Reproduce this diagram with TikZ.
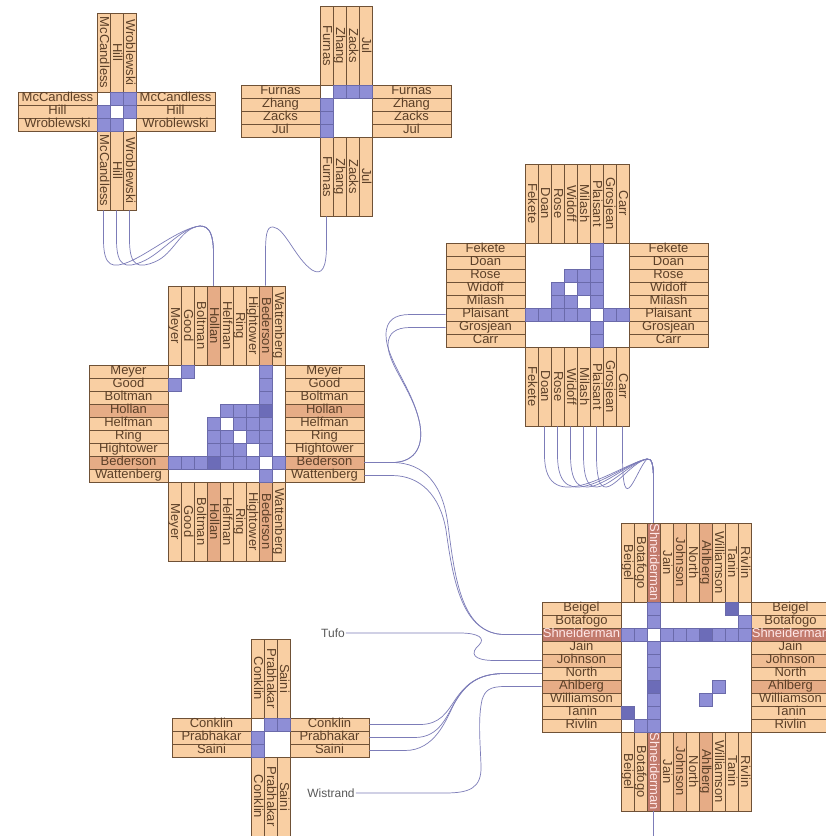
\documentclass[tikz,border=0pt]{standalone}
\usepackage{fontspec}
\setmainfont{Liberation Sans}
\definecolor{lo}{HTML}{F9CFA3}
\definecolor{ldk}{HTML}{E6AC86}
\definecolor{lmd}{HTML}{F0BD93}
\definecolor{lsh}{HTML}{C27A6C}
\definecolor{lbord}{HTML}{6F5136}
\definecolor{ltxt}{HTML}{5C4028}
\definecolor{lpink}{HTML}{FFE8E8}
\definecolor{pur}{HTML}{8E8ED6}
\definecolor{purdk}{HTML}{6C6CB8}
\definecolor{purbord}{HTML}{6A6AAA}
\definecolor{edgec}{HTML}{7C7CB8}
\tikzset{
  lab/.style={draw=lbord, line width=0.6pt, inner sep=0pt, minimum width=79pt,
    minimum height=13pt, font=\fontsize{13}{13}\selectfont, text height=9.3pt,
    text depth=2.6pt, anchor=center},
  cellp/.style={fill=pur, draw=purbord, line width=0.4pt},
  celld/.style={fill=purdk, draw=purbord, line width=0.4pt},
  edge/.style={draw=edgec, line width=0.7pt},
  freelab/.style={text=black!65, font=\fontsize{12}{12}\selectfont, inner sep=1pt}
}
\newcommand{\nxmat}[5]{%
  \fill[white] (#2,#3) rectangle ++(13*#4,13*#4);
  \draw[lbord, line width=0.6pt] (#2,#3) rectangle ++(13*#4,13*#4);
  \foreach \nm/\fc/\tc [count=\i] in {#5} {
    \node[lab, fill=\fc, text=\tc] (#1L\i) at ({#2-39.5},{#3+13*\i-6.5}) {\nm};
    \node[lab, fill=\fc, text=\tc] (#1R\i) at ({#2+13*#4+39.5},{#3+13*\i-6.5}) {\nm};
    \node[lab, fill=\fc, text=\tc, rotate=-90] (#1T\i) at ({#2+13*\i-6.5},{#3-39.5}) {\nm};
    \node[lab, fill=\fc, text=\tc, rotate=-90] (#1B\i) at ({#2+13*\i-6.5},{#3+13*#4+39.5}) {\nm};
  }
}
\newcommand{\nxcells}[4]{%
  \foreach \ra/\cb in {#4} {
    \filldraw[#3] ({#1+13*\cb-13},{#2+13*\ra-13}) rectangle ++(13,13);
    \filldraw[#3] ({#1+13*\ra-13},{#2+13*\cb-13}) rectangle ++(13,13);
  }
}
\begin{document}
\begin{tikzpicture}[x=1pt,y=-1pt]
\useasboundingbox (0,0) rectangle (826,836);
\clip (0,0) rectangle (826,836);
\fill[white] (0,0) rectangle (826,836);

% M1
\nxmat{MA}{97}{92}{3}{McCandless/lo/ltxt, Hill/lo/ltxt, Wroblewski/lo/ltxt}
\nxcells{97}{92}{cellp}{1/2, 1/3, 2/3}
% M2
\nxmat{MB}{320}{85}{4}{Furnas/lo/ltxt, Zhang/lo/ltxt, Zacks/lo/ltxt, Jul/lo/ltxt}
\nxcells{320}{85}{cellp}{1/2, 1/3, 1/4}
% M3
\nxmat{MC}{168}{365}{9}{Meyer/lo/ltxt, Good/lo/ltxt, Boltman/lo/ltxt, Hollan/ldk/ltxt, Helfman/lo/ltxt, Ring/lo/ltxt, Hightower/lo/ltxt, Bederson/ldk/ltxt, Wattenberg/lo/ltxt}
\nxcells{168}{365}{cellp}{1/2, 1/8, 2/8, 3/8, 4/5, 4/6, 4/7, 5/6, 5/7, 5/8, 6/7, 6/8, 7/8, 8/9}
\nxcells{168}{365}{celld}{4/8}
% M4
\nxmat{MD}{525}{243}{8}{Fekete/lo/ltxt, Doan/lo/ltxt, Rose/lo/ltxt, Widoff/lo/ltxt, Milash/lo/ltxt, Plaisant/lo/ltxt, Grosjean/lo/ltxt, Carr/lo/ltxt}
\nxcells{525}{243}{cellp}{1/6, 2/6, 3/4, 3/5, 3/6, 4/5, 4/6, 5/6, 6/7, 6/8}
% M5
\nxmat{ME}{621}{602}{10}{Beigel/lo/ltxt, Botafogo/lo/ltxt, Shneiderman/lsh/lpink, Jain/lo/ltxt, Johnson/lmd/ltxt, North/lo/ltxt, Ahlberg/ldk/ltxt, Williamson/lo/ltxt, Tanin/lo/ltxt, Rivlin/lo/ltxt}
\nxcells{621}{602}{cellp}{1/3, 2/3, 2/10, 3/4, 3/5, 3/6, 3/8, 3/9, 3/10, 7/8}
\nxcells{621}{602}{celld}{1/9, 3/7}
% M6
\nxmat{MF}{251}{718}{3}{Conklin/lo/ltxt, Prabhakar/lo/ltxt, Saini/lo/ltxt}
\nxcells{251}{718}{cellp}{1/2, 1/3}

% free labels
\node[freelab] (tufo) at (333,633) {Tufo};
\node[freelab] (wist) at (331,793) {Wistrand};
\coordinate (offS) at (653.5,836);

% edges M1 -> Hollan
\foreach \k/\x in {1/103.5, 2/116.5, 3/129.5} {
  \draw[edge] (MAB\k.east) -- (\x,240) .. controls (\x,268) and (\x+10,268) .. (\x+25,262)
    .. controls (\x+45,254) and (180,228) .. (200,226)
    .. controls (210,226) and (213.5,235) .. (213.5,255) -- (MCT4.west);
}
% Furnas -> Bederson
\draw[edge] (MBB1.east) -- (326.5,245) .. controls (326.5,268) and (322,276) .. (312,270)
  .. controls (295,258) and (285,228) .. (273,227)
  .. controls (266,226) and (265.5,238) .. (265.5,255) -- (MCT8.west);
% Bederson -> Plaisant, Grosjean
\draw[edge] (MCR8.east) -- (392,462.5) .. controls (412,462.5) and (424,450) .. (420,425)
  .. controls (414,390) and (386,360) .. (386,335)
  .. controls (386,320) and (395,314.5) .. (410,314.5) -- (MDL6.west);
\draw[edge] (MCR8.east) -- (392,462.5) .. controls (412,462.5) and (424,450) .. (420,425)
  .. controls (414,392) and (388,365) .. (388,345)
  .. controls (388,333) and (396,327.5) .. (410,327.5) -- (MDL7.west);
% Bederson, Wattenberg -> Shneiderman
\draw[edge] (MCR8.east) -- (392,462.5) .. controls (425,462.5) and (443,485) .. (448,525)
  .. controls (455,580) and (462,634.5) .. (505,634.5) -- (MEL3.west);
\draw[edge] (MCR9.east) -- (392,475.5) .. controls (420,475.5) and (440,495) .. (446,530)
  .. controls (453,580) and (462,634.5) .. (505,634.5) -- (MEL3.west);
% M4 bottom -> Shneiderman top
\foreach \k/\x/\px/\py in {2/544.5/620/464, 3/557.5/620/464, 4/570.5/620/464, 5/583.5/622/464, 6/596.5/624/464, 8/622.5/636/470} {
  \draw[edge] (MDB\k.east) -- (\x,455) .. controls (\x,522) and (\px,\py) .. (647,459)
    .. controls (652,458) and (653.5,465) .. (653.5,480) -- (MET3.west);
}
% Shneiderman bottom, off picture
\draw[edge] (MEB3.east) -- (offS);
% Tufo -> Johnson
\draw[edge] (tufo.east) -- (460,633) .. controls (478,633) and (486,638) .. (479,645)
  .. controls (470,653) and (472,660.5) .. (495,660.5) -- (MEL5.west);
% Conklin, Prabhakar, Saini -> North
\draw[edge] (MFR1.east) -- (420,724.5) .. controls (440,724.5) and (447,712) .. (455,700)
  .. controls (466,684) and (478,673.5) .. (505,673.5) -- (MEL6.west);
\draw[edge] (MFR2.east) -- (415,737.5) .. controls (440,737.5) and (447,715) .. (455,702)
  .. controls (466,684) and (478,673.5) .. (505,673.5) -- (MEL6.west);
\draw[edge] (MFR3.east) -- (405,750.5) .. controls (435,750.5) and (446,720) .. (454,704)
  .. controls (465,684) and (478,673.5) .. (505,673.5) -- (MEL6.west);
% Wistrand -> Ahlberg
\draw[edge] (wist.east) -- (445,793) .. controls (470,793) and (482,788) .. (481,765)
  .. controls (480,740) and (478,718) .. (482,700)
  .. controls (485,690) and (490,686.5) .. (505,686.5) -- (MEL7.west);
\end{tikzpicture}
\end{document}
